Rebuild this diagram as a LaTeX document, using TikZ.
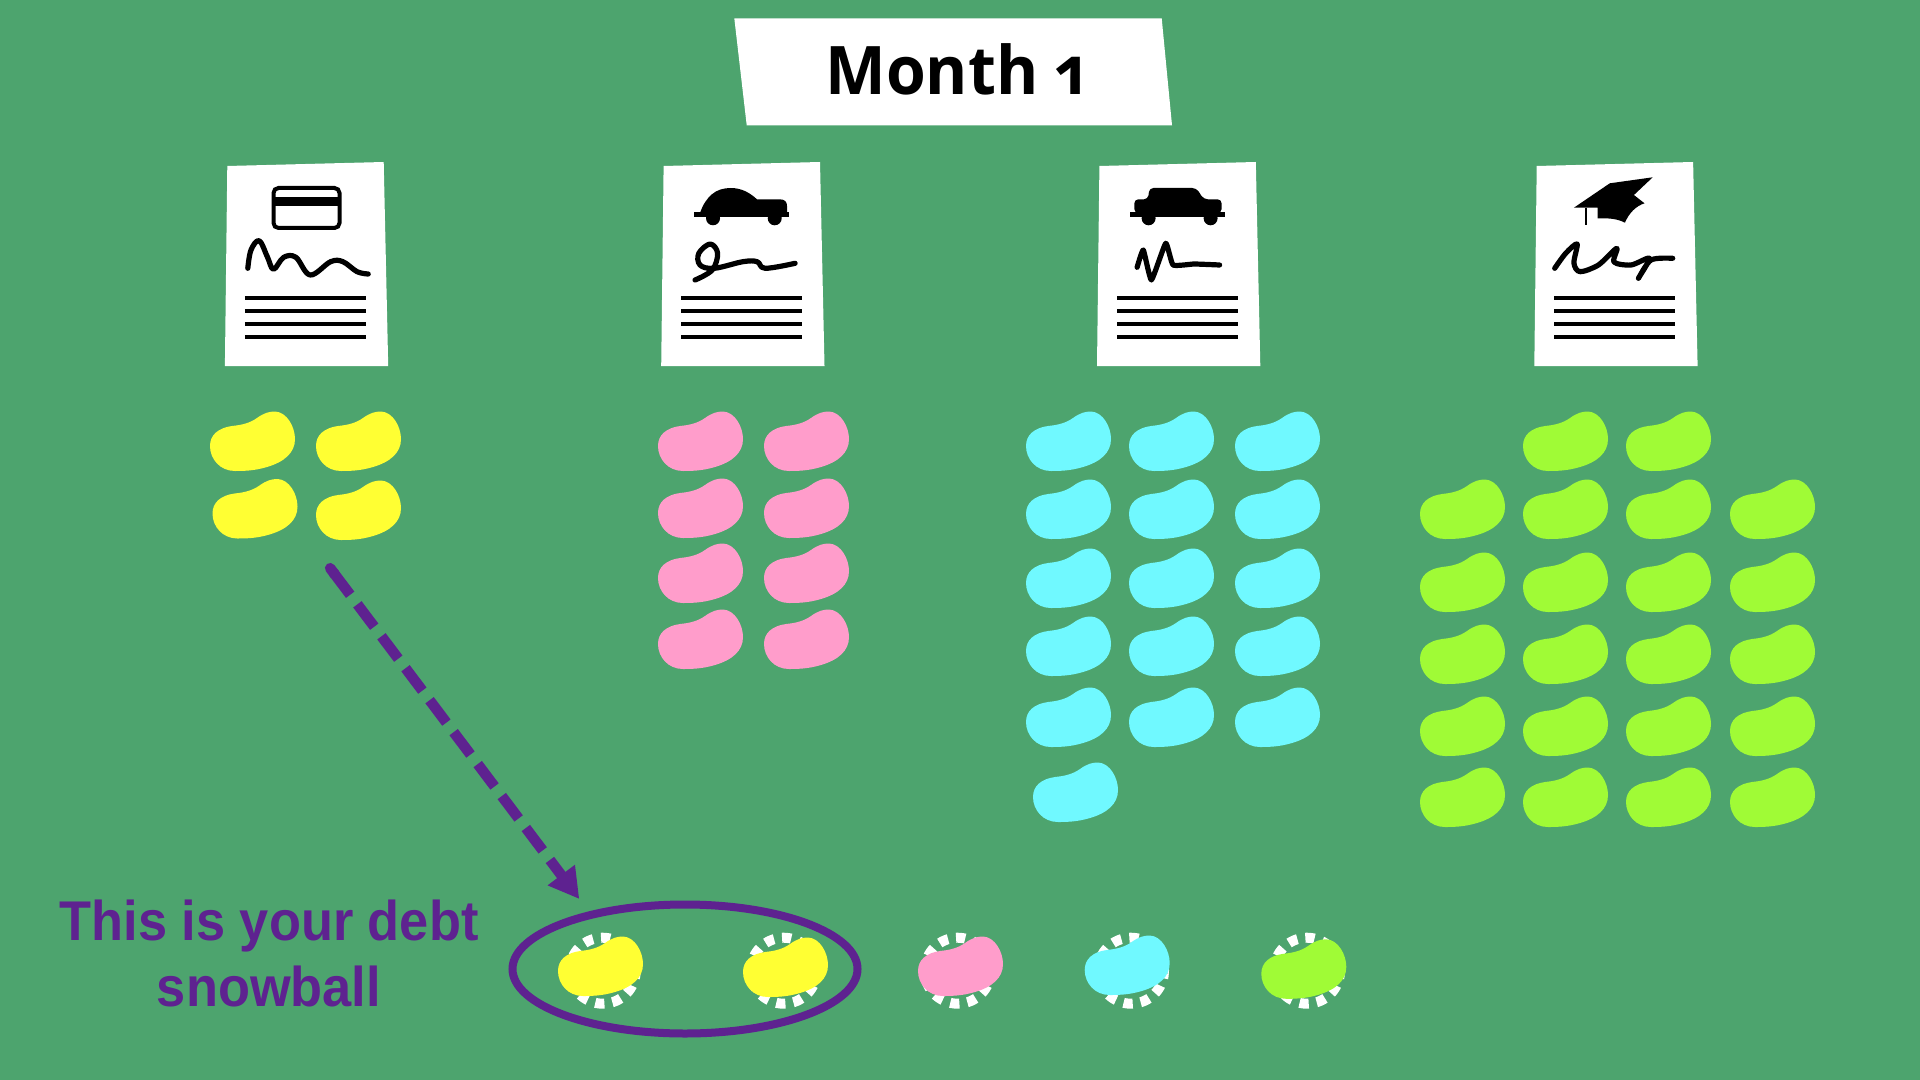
\documentclass[tikz,border=0pt]{standalone}
\usepackage{fontspec}
\usetikzlibrary{shapes.geometric, arrows.meta}
\newfontfamily\monthfont[Numbers=OldStyle, FakeStretch=.96]{Open Sans}
\newfontfamily\snowfont[FakeStretch=.935]{Liberation Sans}
\definecolor{turf}{HTML}{4DA46E}
\definecolor{plum}{HTML}{5E2290}
\definecolor{beanyellow}{HTML}{FFFF33}
\definecolor{beanpink}{HTML}{FF9DCB}
\definecolor{beancyan}{HTML}{70F9FF}
\definecolor{beanlime}{HTML}{A0FB36}
\tikzstyle{month} = [font=\monthfont\fontsize{33.5}{40}\bfseries\selectfont, anchor=base, inner sep=0pt]
\tikzstyle{snow} = [font=\snowfont\fontsize{28}{33}\bfseries\selectfont, text=plum, align=center, inner sep=0pt]
\tikzstyle{rim} = [ellipse, draw=plum, line width=4pt, inner sep=0pt, minimum width=172.5pt, minimum height=64.5pt]
\tikzstyle{arrow} = [draw=plum, line width=5.25pt, dash pattern=on 14pt off 6pt, {Round Cap}-{Triangle[length=15pt,width=16pt]}]
\tikzstyle{rule} = [line width=2.4pt]
\tikzstyle{sign} = [line width=2.6pt, line cap=round, line join=round]
\tikzstyle{halo} = [draw=white, line width=5pt, dash pattern=on 4.6pt off 4.04pt, dash phase=2.3pt]
\tikzset{bean/.pic={
  \fill[#1] (-42,5) .. controls (-42,-6) and (-34,-13) .. (-20,-15) .. controls (-10,-16) and (-2,-18) .. (5,-23) .. controls (12,-28) and (17,-29.5) .. (23,-29.5) .. controls (35,-29) and (43,-14) .. (43,-2) .. controls (43,12) and (32,21) .. (15,26) .. controls (2,30) and (-10,30) .. (-17,30) .. controls (-32,30) and (-42,18) .. (-42,5) -- cycle;
}}

\begin{document}
\begin{tikzpicture}[x=0.5pt, y=-0.5pt]

  \useasboundingbox (0,0) rectangle (1920,1080);
  \fill[turf] (0,0) rectangle (1920,1080);

  \fill[white] (734.3,18.3) -- (1161.7,18.3) -- (1172,125.3) -- (746.7,125.3) -- cycle;
  \node (title) [month] at (956,95) {Month 1};

  \foreach \dx in {224.9, 661.2, 1097, 1534.3} {
    \begin{scope}[shift={(\dx,0)}]
      \fill[white] (2.4,166) -- (158.8,162) -- (163.3,366) -- (0,366) -- cycle;
      \foreach \ly in {298, 311, 324, 337}
        \draw[rule] (20,\ly) -- (141,\ly);
    \end{scope}
  }

  \draw[line width=2pt, rounded corners=2.5pt] (273.5,188) rectangle (339.5,228);
  \fill (273.5,197.3) rectangle (339.5,206);
  \draw[sign] plot[smooth, tension=.6] coordinates {(247.8,268.3) (251,250) (259.2,240.7) (267.3,256.7) (273.5,269.3) (283.7,257.3) (295.9,257.3) (310.2,275) (330.6,261.7) (342.9,261.7) (357.1,271.7) (368.2,274)};

  \fill (693.9,212) rectangle (789,217);
  \fill (700,213) .. controls (706,196) and (716,188) .. (730.6,188) .. controls (742,188) and (750,193) .. (757,199.3) -- (779.6,199.3) .. controls (785,199.3) and (787,202) .. (787,206) -- (787,213) -- cycle;
  \fill (713,218.3) circle [radius=7];
  \fill (774.7,218.3) circle [radius=7];
  \draw[sign] plot[smooth, tension=.6] coordinates {(695.1,280) (712.2,270) (717.6,253.3) (710.2,244) (698.8,253.3) (700,265) (714.3,268.3) (742.9,261.7) (757.1,261.7) (765.3,268.3) (795.1,263.3)};

  \fill (1129.8,212) rectangle (1224.9,217);
  \fill[rounded corners=2pt] (1134.3,213) -- (1134.3,199.3) -- (1148,199.3) -- (1149.4,188) -- (1196.3,188) -- (1203.7,199.3) -- (1221.6,199.3) -- (1221.6,213) -- cycle;
  \fill (1148.6,218.3) circle [radius=7];
  \fill (1210.6,218.3) circle [radius=7];
  \draw[sign] plot[smooth, tension=.25] coordinates {(1137.1,267.3) (1143.3,250) (1151.4,280) (1165.7,243.3) (1173.1,265) (1194.3,264) (1219.6,265)};

  \fill (1573.9,207.7) -- (1609.8,183.3) -- (1652.7,177.3) -- (1633.9,195) -- (1644.5,203.3) .. controls (1636,206) and (1629,213) .. (1624.9,222.7) .. controls (1618,219) and (1610,218) .. (1597.6,218.3) -- (1597.6,207.7) -- cycle;
  \draw[line width=1.25pt] (1586,207.7) -- (1586,225.3);
  \draw[sign] plot[smooth, tension=.5] coordinates {(1554.7,268.3) (1565.7,253.3) (1577.1,244) (1573.9,263) (1580,271.7) (1598.4,265) (1616.7,248.3) (1614,262) (1631,265) (1649.4,258.3) (1638.4,278.3) (1651,260) (1672.7,258.3)};

  \foreach \bx/\by in {252/441, 358/441, 254.5/508.5, 358/510}
    \pic at (\bx,\by) {bean=beanyellow};
  \foreach \bx in {700, 806}
    \foreach \by in {441, 508, 573, 639}
      \pic at (\bx,\by) {bean=beanpink};
  \foreach \bx in {1068, 1171, 1277}
    \foreach \by in {441, 509, 578, 646, 717}
      \pic at (\bx,\by) {bean=beancyan};
  \pic at (1075,792) {bean=beancyan};
  \foreach \bx in {1565, 1668}
    \pic at (\bx,441) {bean=beanlime};
  \foreach \bx in {1462, 1565, 1668, 1772}
    \foreach \by in {509, 582, 654, 726, 797}
      \pic at (\bx,\by) {bean=beanlime};

  \foreach \cx/\bx/\by/\tint in {602.7/600/966/beanyellow, 783.7/785/967/beanyellow, 957.7/960/966/beanpink, 1131/1126.7/965/beancyan, 1307/1303.3/968.8/beanlime} {
    \draw[halo, rotate around={-5:(\cx,970.7)}] (\cx,970.7) circle [radius=33];
    \pic at (\bx,\by) {bean=\tint};
  }

  \node (rimnode) [rim] at (685,969) {};
  \node (caption) [snow] at (269,953) {This is your debt\\snowball};

  \coordinate (start) at (327,564);
  \coordinate (end) at (579.3,899);
  \draw [arrow] (start) -- (end);

\end{tikzpicture}
\end{document}
